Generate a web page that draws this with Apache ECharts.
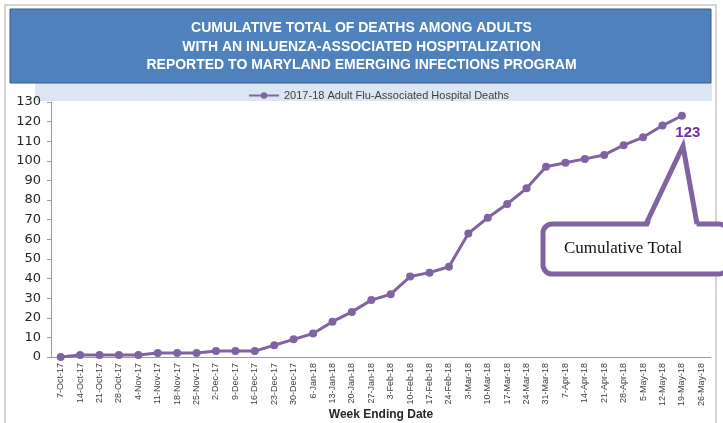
<!DOCTYPE html>
<html>
<head>
<meta charset="utf-8">
<script src="https://cdn.jsdelivr.net/npm/echarts@6/dist/echarts.min.js"></script>
<style>
html,body{margin:0;padding:0;background:#fff;}
#chart{width:723px;height:423px;}
</style>
</head>
<body>
<div id="chart"></div>
<script>
const categories = ['7-Oct-17','14-Oct-17','21-Oct-17','28-Oct-17','4-Nov-17','11-Nov-17','18-Nov-17','25-Nov-17',
  '2-Dec-17','9-Dec-17','16-Dec-17','23-Dec-17','30-Dec-17','6-Jan-18','13-Jan-18','20-Jan-18','27-Jan-18',
  '3-Feb-18','10-Feb-18','17-Feb-18','24-Feb-18','3-Mar-18','10-Mar-18','17-Mar-18','24-Mar-18','31-Mar-18',
  '7-Apr-18','14-Apr-18','21-Apr-18','28-Apr-18','5-May-18','12-May-18','19-May-18','26-May-18'];
const deaths = [0,1,1,1,1,2,2,2,3,3,3,6,9,12,18,23,29,32,41,43,46,63,71,78,86,97,99,101,103,108,112,118,123,null];
const seriesName = '2017-18 Adult Flu-Associated Hospital Deaths';
const titleLines = ['CUMULATIVE TOTAL OF DEATHS AMONG ADULTS','WITH AN INLUENZA-ASSOCIATED HOSPITALIZATION','REPORTED TO MARYLAND EMERGING INFECTIONS PROGRAM'];
const calloutText = 'Cumulative Total';
const xAxisName = 'Week Ending Date';
const yTicks = {min:0, max:130, interval:10};

const chart = echarts.init(document.getElementById('chart'));
const lastIdx = deaths.reduce((a,v,i)=> v!=null ? i : a, 0);
const purple = '#8064A2';

const option = {
  animation:false,
  backgroundColor:'#fff',
  grid:{left:51,right:12,top:102,bottom:66,containLabel:false,outerBoundsMode:'none'},
  legend:{
    top:85, left:243,
    itemWidth:30, itemHeight:8, itemGap:2,
    textStyle:{fontSize:11,color:'#404040',fontFamily:'Liberation Sans, Arial'},
    data:[seriesName]
  },
  xAxis:{
    type:'category', data:categories, boundaryGap:true,
    name:xAxisName, nameLocation:'middle', nameGap:52, nameMoveOverlap:false,
    nameTextStyle:{fontSize:12,fontWeight:'bold',color:'#262626',fontFamily:'Liberation Sans, Arial'},
    axisLine:{lineStyle:{color:'#9a9a9a',width:1}},
    axisTick:{show:false},
    axisLabel:{rotate:90,interval:0,fontSize:9,color:'#404040',margin:6,fontFamily:'Liberation Sans, Arial'}
  },
  yAxis:{
    type:'value', min:yTicks.min, max:yTicks.max, interval:yTicks.interval,
    axisLine:{show:true,lineStyle:{color:'#9a9a9a',width:1}},
    axisTick:{show:true,length:4,lineStyle:{color:'#9a9a9a'}},
    splitLine:{show:false},
    axisLabel:{fontSize:13,color:'#262626',margin:10,fontFamily:'DejaVu Sans, Verdana'}
  },
  series:[{
    name:seriesName, type:'line', data:deaths,
    symbol:'circle', symbolSize:8,
    lineStyle:{color:purple,width:3},
    itemStyle:{color:purple},
    label:{
      show:true,
      formatter:(p)=> p.dataIndex===lastIdx ? String(p.value) : '',
      position:'bottom', offset:[6,1],
      fontSize:15, fontWeight:'bold', color:'#7030A0',
      fontFamily:'Liberation Sans, Arial'
    }
  }],
  graphic:[
    {type:'rect', shape:{x:5,y:5,width:711,height:430}, style:{fill:'none',stroke:'#c8c8c8',lineWidth:1.5}, z:0},
    {type:'rect', shape:{x:35,y:83,width:677,height:18}, style:{fill:'#dce6f2'}, z:-1},
    {type:'rect', shape:{x:10,y:9,width:701,height:74}, style:{fill:'#4F81BD',stroke:'#385D8A',lineWidth:1}, z:1},
    {type:'text', left:'center', top:19, z:2,
      style:{text:titleLines.join('\n'), fill:'#fff', font:'bold 14px "Liberation Sans", Arial', textAlign:'center', lineHeight:18.5}},
    {type:'rect', z:6,
      shape:{x:543,y:224,width:185,height:50,r:9},
      style:{fill:'#fff',stroke:purple,lineWidth:5}},
    {type:'polygon', z:7,
      shape:{points:[[648,228],[683,146],[697,228]]},
      style:{fill:'#fff'}},
    {type:'polyline', z:8,
      shape:{points:[[646,224],[683,146],[697,224]]},
      style:{fill:'none',stroke:purple,lineWidth:5,lineJoin:'miter'}},
    {type:'text', z:9, left:564, top:240,
      style:{text:calloutText, fill:'#111', font:'17px "Liberation Serif", "Times New Roman", serif'}}
  ]
};
chart.setOption(option);
</script>
</body>
</html>
